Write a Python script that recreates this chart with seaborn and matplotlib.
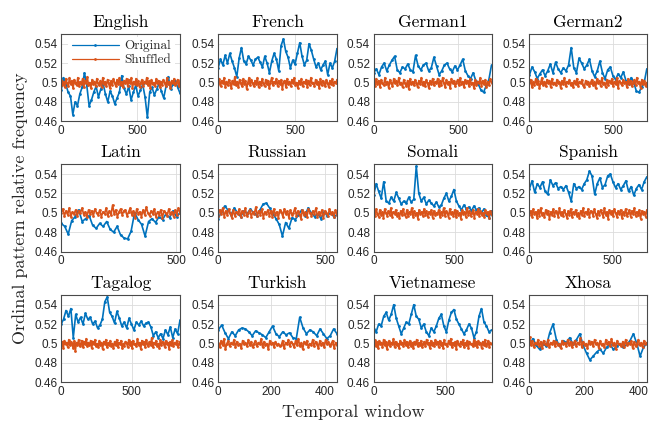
import numpy as np
import pandas as pd
import matplotlib
matplotlib.use("Agg")
import matplotlib.pyplot as plt
import seaborn as sns

# ---------------- data ----------------
LANGS = ["English", "French", "German1", "German2",
         "Latin", "Russian", "Somali", "Spanish",
         "Tagalog", "Turkish", "Vietnamese", "Xhosa"]
N_WINDOWS = [780, 770, 695, 700, 517, 556, 725, 705, 842, 445, 819, 431]
X_TICKS = [[0, 500]] * 9 + [[0, 200, 400], [0, 500], [0, 200, 400]]
Y_TICKS = [0.46, 0.48, 0.50, 0.52, 0.54]
Y_TICK_LABELS = ["0.46", "0.48", "0.5", "0.52", "0.54"]
SERIES = ["Original", "Shuffled"]

ORIG_English = [0.492,0.505,0.498,0.490,0.486,0.467,0.480,0.476,0.488,0.495,0.510,0.497,0.476,0.482,0.490,0.496,0.485,0.493,0.499,0.488,0.480,0.491,0.486,0.478,0.484,0.490,0.507,0.494,0.488,0.496,0.482,0.490,0.497,0.486,0.492,0.498,0.485,0.464,0.490,0.495,0.487,0.493,0.499,0.491,0.484,0.496,0.506,0.493,0.498,0.502,0.495,0.489]
ORIG_French = [0.515,0.524,0.518,0.528,0.520,0.530,0.522,0.515,0.506,0.525,0.536,0.522,0.519,0.527,0.523,0.518,0.524,0.526,0.521,0.516,0.527,0.520,0.510,0.522,0.530,0.524,0.512,0.538,0.545,0.532,0.526,0.515,0.523,0.519,0.530,0.541,0.527,0.518,0.523,0.540,0.533,0.524,0.516,0.520,0.513,0.518,0.522,0.508,0.520,0.515,0.522,0.535]
ORIG_German1 = [0.510,0.514,0.508,0.516,0.520,0.512,0.518,0.523,0.527,0.513,0.510,0.516,0.514,0.519,0.513,0.511,0.528,0.517,0.513,0.518,0.520,0.512,0.515,0.526,0.517,0.508,0.512,0.518,0.520,0.514,0.511,0.517,0.513,0.518,0.524,0.512,0.507,0.504,0.510,0.502,0.498,0.492,0.490,0.497,0.503,0.518]
ORIG_German2 = [0.508,0.516,0.511,0.504,0.509,0.513,0.507,0.512,0.519,0.510,0.521,0.514,0.510,0.515,0.512,0.518,0.536,0.515,0.510,0.525,0.520,0.514,0.518,0.524,0.512,0.506,0.512,0.522,0.510,0.504,0.513,0.516,0.507,0.503,0.509,0.505,0.511,0.502,0.498,0.505,0.500,0.491,0.490,0.495,0.500,0.514]
ORIG_Latin = [0.489,0.486,0.478,0.492,0.496,0.503,0.491,0.494,0.497,0.487,0.484,0.489,0.486,0.491,0.483,0.480,0.486,0.477,0.474,0.473,0.481,0.500,0.493,0.488,0.476,0.491,0.494,0.490,0.496,0.493,0.499,0.495,0.502,0.496,0.500]
ORIG_Russian = [0.494,0.501,0.507,0.503,0.498,0.505,0.500,0.496,0.502,0.499,0.504,0.500,0.497,0.503,0.509,0.510,0.505,0.499,0.494,0.488,0.476,0.490,0.484,0.495,0.493,0.498,0.503,0.497,0.505,0.500,0.496,0.499,0.494,0.501,0.497,0.500,0.496,0.498]
ORIG_Somali = [0.518,0.530,0.522,0.515,0.532,0.512,0.510,0.516,0.512,0.521,0.515,0.509,0.512,0.510,0.516,0.511,0.514,0.548,0.520,0.512,0.516,0.509,0.513,0.510,0.507,0.511,0.506,0.508,0.515,0.520,0.512,0.517,0.524,0.512,0.507,0.503,0.508,0.504,0.506,0.502,0.507,0.503,0.505,0.500,0.504,0.498,0.495,0.502]
ORIG_Spanish = [0.525,0.533,0.521,0.530,0.526,0.532,0.522,0.519,0.534,0.528,0.531,0.525,0.527,0.524,0.528,0.521,0.512,0.530,0.525,0.527,0.524,0.530,0.534,0.543,0.538,0.519,0.530,0.536,0.526,0.529,0.538,0.540,0.532,0.526,0.530,0.524,0.528,0.533,0.522,0.527,0.518,0.525,0.529,0.524,0.532,0.537]
ORIG_Tagalog = [0.520,0.525,0.534,0.528,0.536,0.506,0.530,0.522,0.527,0.520,0.531,0.525,0.527,0.520,0.523,0.516,0.519,0.525,0.543,0.548,0.532,0.528,0.521,0.533,0.526,0.518,0.522,0.516,0.526,0.520,0.514,0.522,0.519,0.523,0.518,0.521,0.522,0.517,0.508,0.512,0.506,0.510,0.505,0.514,0.509,0.517,0.506,0.515,0.510,0.524]
ORIG_Turkish = [0.514,0.519,0.511,0.505,0.512,0.508,0.514,0.516,0.515,0.512,0.508,0.513,0.511,0.509,0.506,0.512,0.518,0.510,0.507,0.512,0.509,0.511,0.506,0.505,0.527,0.516,0.510,0.514,0.512,0.508,0.515,0.510,0.505,0.508,0.515,0.510]
ORIG_Vietnamese = [0.515,0.512,0.520,0.518,0.528,0.532,0.524,0.530,0.540,0.526,0.518,0.510,0.516,0.522,0.520,0.530,0.540,0.528,0.525,0.516,0.520,0.512,0.508,0.516,0.512,0.518,0.526,0.530,0.518,0.512,0.524,0.532,0.535,0.525,0.520,0.515,0.510,0.514,0.520,0.516,0.506,0.512,0.528,0.536,0.522,0.518,0.512,0.514]
ORIG_Xhosa = [0.499,0.505,0.498,0.494,0.500,0.497,0.511,0.520,0.504,0.497,0.503,0.501,0.506,0.499,0.504,0.510,0.498,0.490,0.483,0.487,0.491,0.494,0.490,0.496,0.499,0.494,0.497,0.500,0.496,0.499,0.503,0.510,0.500,0.487,0.496,0.500]

SHUF_English = [0.503,0.497,0.501,0.495,0.504,0.499,0.496,0.505,0.498,0.502,0.494,0.503,0.500,0.497,0.505,0.496,0.501,0.498,0.504,0.495,0.502,0.499,0.506,0.497,0.500,0.494,0.503,0.498,0.501,0.496,0.504,0.499,0.497,0.502,0.495,0.505,0.498,0.501,0.496,0.503,0.499,0.494,0.502,0.497,0.504,0.500,0.496,0.503,0.498,0.505,0.497,0.501,0.495,0.502,0.499,0.504,
                0.496,0.503,0.499,0.505,0.494,0.501,0.498,0.504,0.497,0.502,0.495,0.500,0.503,0.496,0.501,0.499,0.505,0.497,0.502,0.494,0.503,0.498,0.500,0.496,0.504,0.499,0.502,0.495,0.501,0.497,0.503,0.500,0.496,0.505,0.498,0.501,0.494,0.502,0.499,0.504,0.497,0.500,0.503,0.496,0.501]
SHUF_French = [0.498,0.504,0.496,0.502,0.499,0.505,0.495,0.501,0.497,0.503,0.500,0.494,0.502,0.498,0.506,0.497,0.501,0.495,0.503,0.499,0.496,0.504,0.498,0.502,0.493,0.500,0.505,0.497,0.503,0.499,0.496,0.502,0.498,0.505,0.495,0.501,0.497,0.504,0.499,0.496,0.503,0.498,0.502,0.494,0.500,0.505,0.497,0.501,0.499,0.504,0.496,0.502,0.498,0.503,0.493,0.501,
               0.502,0.495,0.504,0.498,0.501,0.496,0.503,0.499,0.505,0.497,0.500,0.494,0.502,0.498,0.504,0.496,0.501,0.499,0.503,0.495,0.502,0.497,0.505,0.499,0.500,0.496,0.503,0.498,0.501,0.494,0.504,0.497,0.502,0.499,0.496,0.503,0.500,0.495,0.502,0.498,0.504,0.497,0.501,0.499,0.503]
SHUF_German1 = [0.501,0.496,0.504,0.498,0.502,0.495,0.503,0.499,0.497,0.505,0.498,0.501,0.494,0.503,0.500,0.496,0.504,0.499,0.502,0.497,0.505,0.498,0.500,0.495,0.503,0.499,0.496,0.502,0.493,0.504,0.498,0.501,0.497,0.503,0.500,0.495,0.502,0.498,0.505,0.497,0.501,0.496,0.503,0.499,0.494,0.502,0.498,0.504,0.497,0.501,
                0.499,0.504,0.496,0.502,0.497,0.505,0.500,0.495,0.503,0.498,0.501,0.494,0.504,0.499,0.502,0.496,0.500,0.503,0.497,0.505,0.498,0.501,0.495,0.503,0.499,0.502,0.496,0.504,0.498,0.500,0.494,0.503,0.497,0.501,0.499,0.505,0.496,0.502,0.498,0.503,0.495,0.501,0.497,0.504,0.500]
SHUF_German2 = [0.499,0.503,0.495,0.501,0.497,0.504,0.498,0.502,0.494,0.500,0.505,0.497,0.501,0.496,0.503,0.499,0.502,0.495,0.504,0.498,0.500,0.497,0.503,0.499,0.501,0.494,0.502,0.498,0.505,0.496,0.501,0.499,0.503,0.497,0.500,0.495,0.502,0.498,0.504,0.496,0.501,0.499,0.503,0.497,0.495,0.502,0.498,0.501,0.496,0.500,
                0.503,0.497,0.501,0.494,0.504,0.499,0.502,0.496,0.505,0.498,0.500,0.495,0.503,0.497,0.502,0.499,0.504,0.496,0.501,0.498,0.505,0.494,0.502,0.500,0.497,0.503,0.499,0.501,0.495,0.504,0.498,0.502,0.496,0.500,0.503,0.497,0.505,0.499,0.501,0.494,0.503,0.498,0.502,0.496,0.500]
SHUF_Latin = [0.500,0.504,0.497,0.502,0.498,0.505,0.496,0.501,0.499,0.503,0.497,0.502,0.500,0.505,0.498,0.501,0.496,0.503,0.499,0.502,0.497,0.504,0.500,0.498,0.503,0.496,0.501,0.499,0.505,0.497,0.502,0.498,0.508,0.499,0.503,0.496,0.501,0.504,0.498,0.502,
              0.503,0.497,0.501,0.505,0.498,0.502,0.495,0.504,0.499,0.501,0.496,0.503,0.498,0.506,0.500,0.497,0.502,0.499,0.504,0.496,0.501,0.498,0.503,0.495,0.502,0.500,0.497,0.504,0.499,0.501,0.496,0.503,0.498,0.505,0.500]
SHUF_Russian = [0.497,0.503,0.499,0.505,0.496,0.502,0.498,0.504,0.500,0.495,0.503,0.497,0.501,0.499,0.504,0.496,0.502,0.498,0.505,0.497,0.500,0.503,0.496,0.501,0.499,0.506,0.497,0.502,0.498,0.504,0.495,0.501,0.499,0.503,0.497,0.502,0.496,0.504,0.498,0.501,0.495,0.503,
                0.501,0.496,0.504,0.499,0.502,0.495,0.503,0.498,0.500,0.505,0.497,0.502,0.499,0.494,0.503,0.498,0.501,0.496,0.504,0.500,0.497,0.502,0.499,0.505,0.496,0.501,0.498,0.503,0.495,0.502,0.500,0.497,0.504,0.499,0.501,0.496,0.503,0.498]
SHUF_Somali = [0.502,0.497,0.504,0.499,0.496,0.503,0.498,0.501,0.495,0.504,0.500,0.497,0.502,0.498,0.505,0.496,0.501,0.499,0.503,0.497,0.500,0.495,0.502,0.498,0.504,0.499,0.496,0.503,0.497,0.501,0.499,0.505,0.496,0.502,0.498,0.500,0.494,0.503,0.499,0.501,0.497,0.504,0.498,0.502,0.496,0.501,0.499,0.503,0.495,0.502,0.498,0.500,
               0.499,0.503,0.496,0.501,0.498,0.505,0.497,0.502,0.500,0.495,0.504,0.499,0.501,0.497,0.503,0.496,0.502,0.498,0.500,0.494,0.503,0.499,0.501,0.496,0.505,0.498,0.502,0.497,0.500,0.503,0.495,0.501,0.499,0.504,0.497,0.502,0.498,0.500,0.496,0.503,0.499,0.501,0.495,0.502,0.498]
SHUF_Spanish = [0.498,0.502,0.496,0.504,0.499,0.501,0.495,0.503,0.497,0.505,0.498,0.500,0.496,0.503,0.499,0.502,0.494,0.501,0.498,0.504,0.497,0.502,0.500,0.496,0.505,0.498,0.501,0.497,0.503,0.499,0.495,0.502,0.498,0.504,0.496,0.501,0.499,0.503,0.497,0.500,0.495,0.502,0.498,0.505,0.497,0.501,0.499,0.504,0.496,0.502,
                0.501,0.497,0.504,0.499,0.495,0.502,0.498,0.503,0.500,0.496,0.505,0.498,0.501,0.494,0.503,0.499,0.502,0.497,0.504,0.500,0.496,0.502,0.499,0.503,0.495,0.501,0.498,0.504,0.497,0.500,0.503,0.496,0.502,0.499,0.505,0.497,0.501,0.498,0.503,0.494,0.502,0.499,0.501,0.496,0.503]
SHUF_Tagalog = [0.497,0.502,0.495,0.503,0.499,0.501,0.496,0.504,0.498,0.502,0.500,0.495,0.503,0.492,0.501,0.498,0.504,0.497,0.500,0.503,0.496,0.502,0.499,0.505,0.497,0.501,0.498,0.503,0.495,0.502,0.499,0.504,0.497,0.500,0.496,0.503,0.498,0.501,0.494,0.502,0.499,0.504,0.496,0.501,0.498,0.503,0.497,0.500,0.495,0.502,0.498,0.504,0.496,0.501,0.499,0.503,0.495,0.500,0.497,0.502,
                0.501,0.496,0.504,0.498,0.502,0.495,0.503,0.499,0.500,0.497,0.505,0.498,0.501,0.494,0.503,0.499,0.502,0.496,0.504,0.500,0.497,0.502,0.498,0.506,0.496,0.501,0.499,0.503,0.497,0.500,0.495,0.504,0.498,0.502,0.500,0.496,0.503,0.499,0.501,0.494,0.502,0.498,0.504,0.497,0.501,0.499,0.503,0.496,0.500,0.502]
SHUF_Turkish = [0.501,0.496,0.503,0.498,0.505,0.494,0.500,0.503,0.497,0.501,0.499,0.504,0.496,0.502,0.498,0.500,0.495,0.503,0.499,0.501,0.497,0.504,0.498,0.502,0.496,0.500,0.503,0.497,0.501,0.499,0.505,0.496,0.502,0.498,0.500,0.494,0.503,0.499,0.501,0.496,0.502,0.498,0.500,0.497,
                0.498,0.503,0.495,0.501,0.499,0.504,0.497,0.502,0.500,0.496,0.503,0.498,0.505,0.497,0.501,0.494,0.502,0.499,0.503,0.496,0.500,0.498,0.504,0.497,0.502,0.499,0.495,0.503,0.498,0.501,0.496,0.504,0.499,0.502,0.497,0.500,0.503,0.495,0.501,0.498]
SHUF_Vietnamese = [0.500,0.504,0.497,0.502,0.495,0.503,0.499,0.501,0.496,0.504,0.498,0.502,0.494,0.500,0.503,0.497,0.501,0.499,0.505,0.496,0.502,0.498,0.500,0.495,0.503,0.499,0.501,0.497,0.504,0.498,0.502,0.496,0.500,0.503,0.497,0.501,0.495,0.502,0.499,0.504,0.497,0.501,0.498,0.503,0.496,0.500,0.502,0.497,0.504,0.499,0.501,0.495,0.503,0.498,0.501,0.497,0.504,0.499,
                   0.502,0.496,0.503,0.498,0.501,0.495,0.504,0.499,0.500,0.497,0.503,0.499,0.505,0.496,0.501,0.498,0.502,0.494,0.503,0.500,0.497,0.502,0.499,0.504,0.496,0.501,0.498,0.503,0.495,0.502,0.499,0.500,0.497,0.504,0.498,0.502,0.496,0.503,0.499,0.501,0.495,0.502,0.498,0.504,0.497,0.500,0.503,0.496,0.501,0.499]
SHUF_Xhosa = [0.507,0.498,0.503,0.496,0.501,0.499,0.504,0.497,0.502,0.495,0.503,0.500,0.498,0.504,0.496,0.501,0.499,0.503,0.497,0.502,0.498,0.500,0.495,0.503,0.499,0.501,0.497,0.504,0.498,0.502,0.496,0.500,0.503,0.497,0.501,0.499,0.506,0.496,0.502,0.498,0.500,0.495,0.503,0.499,
              0.502,0.497,0.504,0.499,0.501,0.495,0.503,0.498,0.500,0.496,0.504,0.499,0.502,0.497,0.505,0.498,0.501,0.494,0.503,0.499,0.500,0.497,0.502,0.496,0.504,0.498,0.501,0.499,0.503,0.495,0.502,0.497,0.500,0.504,0.498,0.501,0.496,0.503,0.499,0.501]

ORIG = {"English": ORIG_English, "French": ORIG_French, "German1": ORIG_German1,
        "German2": ORIG_German2, "Latin": ORIG_Latin, "Russian": ORIG_Russian,
        "Somali": ORIG_Somali, "Spanish": ORIG_Spanish, "Tagalog": ORIG_Tagalog,
        "Turkish": ORIG_Turkish, "Vietnamese": ORIG_Vietnamese, "Xhosa": ORIG_Xhosa}
SHUF = {"English": SHUF_English, "French": SHUF_French, "German1": SHUF_German1,
        "German2": SHUF_German2, "Latin": SHUF_Latin, "Russian": SHUF_Russian,
        "Somali": SHUF_Somali, "Spanish": SHUF_Spanish, "Tagalog": SHUF_Tagalog,
        "Turkish": SHUF_Turkish, "Vietnamese": SHUF_Vietnamese, "Xhosa": SHUF_Xhosa}

# ---------------- style ----------------
sns.set_style("white")
plt.rcParams["font.family"] = ["Liberation Sans", "DejaVu Sans"]
BLUE = "#0072BD"
ORANGE = "#D95319"
SERIF = ["cmr10", "DejaVu Serif"]
TXT = "#262626"

W, H = 656, 426
fig = plt.figure(figsize=(W / 100, H / 100), dpi=100)

col_left = [61, 218, 373.5, 529.3]
col_w = [119, 119, 118, 117.5]
row_top = [34, 164.3, 295]
ax_h = 87.3

for i, lang in enumerate(LANGS):
    r, c = divmod(i, 4)
    rect = [col_left[c] / W, 1 - (row_top[r] + ax_h) / H, col_w[c] / W, ax_h / H]
    ax = fig.add_axes(rect)
    n = N_WINDOWS[i]
    o = ORIG[lang]
    s = SHUF[lang]
    df = pd.concat([
        pd.DataFrame({"window": np.linspace(1, n, len(o)), "freq": o, "series": "Original"}),
        pd.DataFrame({"window": np.linspace(1, n, len(s)), "freq": s, "series": "Shuffled"}),
    ], ignore_index=True)
    sns.lineplot(data=df, x="window", y="freq", hue="series", hue_order=SERIES,
                 palette=[BLUE, ORANGE], marker=".", markersize=4,
                 markeredgewidth=0, linewidth=1.2, ax=ax, legend=(i == 0),
                 estimator=None, sort=False)
    ax.set_xlim(0, n)
    ax.set_ylim(0.46, 0.55)
    ax.set_yticks(Y_TICKS)
    ax.set_yticklabels(Y_TICK_LABELS)
    ax.set_xticks(X_TICKS[i])
    ax.set_xticklabels([str(t) for t in X_TICKS[i]])
    ax.set_xlabel("")
    ax.set_ylabel("")
    ax.grid(True, color="#dcdcdc", linewidth=0.6)
    ax.set_axisbelow(True)
    for sp in ax.spines.values():
        sp.set_color("#4a4a4a")
        sp.set_linewidth(0.8)
    ax.tick_params(direction="in", length=2.5, width=0.6, color="#4a4a4a",
                   labelsize=8.5, labelcolor=TXT, pad=2.5)
    ax.set_title(lang, family=SERIF, fontsize=12.5, color="black", pad=5)
    if i == 0:
        leg = ax.legend(loc="upper left", bbox_to_anchor=(0.04, 1.0), frameon=True,
                        facecolor="white", edgecolor="none", framealpha=1,
                        prop={"family": SERIF, "size": 9.5}, handlelength=3.6,
                        handletextpad=0.4, borderpad=0.25, labelspacing=0.15,
                        borderaxespad=0.2)
        for t in leg.get_texts():
            t.set_color(TXT)
        for ln in leg.get_lines():
            ln.set_linewidth(0.9)

fig.text(353 / W, 1 - 412 / H, "Temporal window", family=SERIF, fontsize=13,
         ha="center", va="center", color=TXT)
fig.text(20 / W, 1 - 208 / H, "Ordinal pattern relative frequency", family=SERIF,
         fontsize=13, ha="center", va="center", rotation=90, color=TXT)

fig.savefig("out.png", dpi=100)
